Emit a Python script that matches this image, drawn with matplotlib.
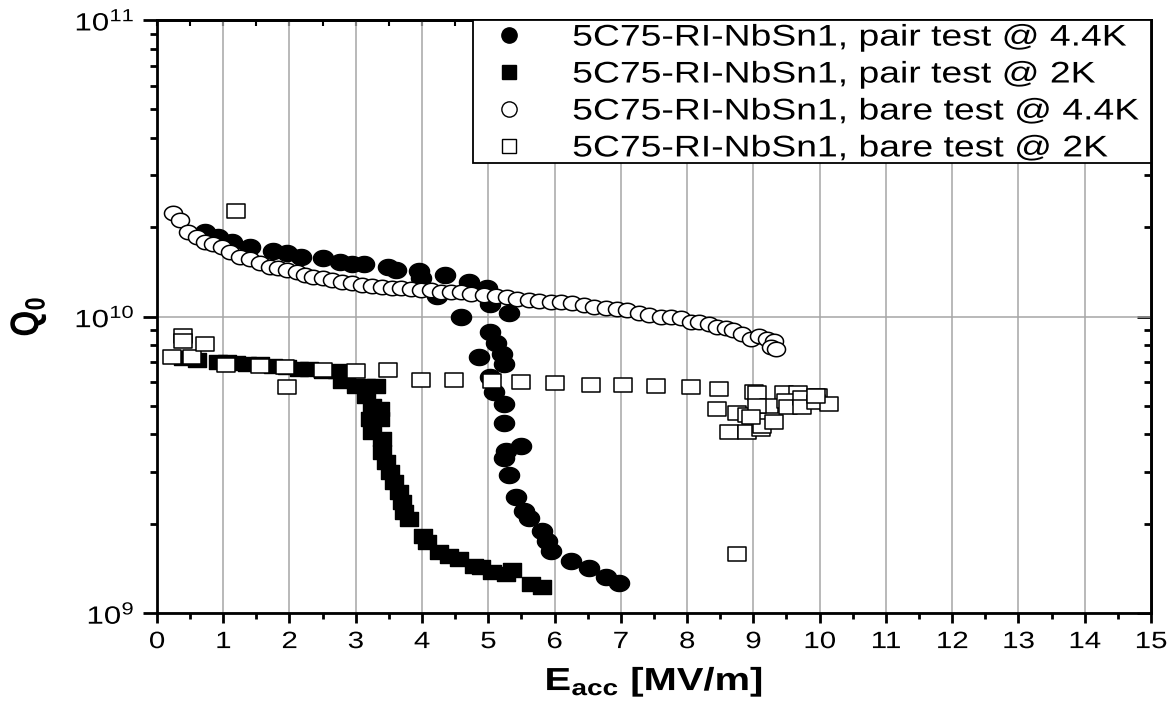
import numpy as np
import matplotlib
matplotlib.use("Agg")
import matplotlib.pyplot as plt
from matplotlib.path import Path
from matplotlib.lines import Line2D
from matplotlib.patches import Rectangle
from matplotlib.patheffects import AbstractPathEffect
from matplotlib.transforms import Affine2D
from matplotlib.ticker import MultipleLocator, LogLocator, NullFormatter

plt.rcParams['font.family'] = ['Liberation Sans', 'DejaVu Sans']
plt.rcParams['mathtext.fontset'] = 'custom'
plt.rcParams['mathtext.rm'] = 'Liberation Sans'
plt.rcParams['mathtext.bf'] = 'Liberation Sans:bold'
plt.rcParams['mathtext.it'] = 'Liberation Sans:italic'

# pair test @ 4.4K (filled circles)
pair44_E = [0.72, 0.92, 1.13, 1.40, 1.75, 1.96, 2.18, 2.50, 2.76, 2.94, 3.13, 3.48, 3.61,
            3.96, 3.99, 4.34, 4.71, 4.98, 4.22, 5.02, 5.32, 4.59, 5.02, 5.12, 4.86, 5.20,
            5.24, 5.02, 5.09, 5.24, 5.24, 5.50, 5.27, 5.24, 5.32, 5.42, 5.54, 5.62, 5.81,
            5.89, 5.95, 6.25, 6.52, 6.78, 6.97]
pair44_Q = [19.2, 18.5, 17.9, 17.2, 16.6, 16.4, 15.9, 15.7, 15.3, 15.0, 15.0, 14.7, 14.4,
            14.2, 13.5, 13.8, 13.1, 12.5, 11.7, 11.0, 10.3, 9.93, 8.84, 8.17, 7.28, 7.45,
            6.89, 6.23, 5.55, 5.06, 4.37, 3.65, 3.51, 3.33, 2.92, 2.46, 2.20, 2.09, 1.89,
            1.75, 1.62, 1.50, 1.42, 1.32, 1.26]

# pair test @ 2K (filled squares)
pair2_E = [0.39, 0.60, 0.92, 1.05, 1.20, 1.36, 1.55, 1.75, 1.96, 2.15, 2.30, 2.50, 2.71,
           2.86, 2.79, 3.01, 3.16, 3.31, 3.16, 3.24, 3.36, 3.21, 3.36, 3.25, 3.40, 3.40,
           3.46, 3.51, 3.58, 3.66, 3.70, 3.73, 3.81, 4.01, 4.07, 4.26, 4.41, 4.56, 4.79,
           4.89, 5.05, 5.27, 5.36, 5.65, 5.81]
pair2_Q = [7.23, 7.15, 7.05, 7.00, 6.95, 6.89, 6.89, 6.79, 6.73, 6.63, 6.63, 6.53, 6.53,
           6.47, 6.04, 5.81, 5.81, 5.81, 5.38, 4.98, 4.86, 4.50, 4.50, 4.07, 3.85, 3.49,
           3.22, 2.98, 2.76, 2.55, 2.36, 2.19, 2.07, 1.82, 1.73, 1.60, 1.56, 1.52, 1.44,
           1.43, 1.37, 1.35, 1.40, 1.25, 1.22]

# bare test @ 4.4K (open circles)
bare44_E = [0.24, 0.35, 0.47, 0.60, 0.72, 0.84, 0.98, 1.10, 1.25, 1.40, 1.55, 1.70, 1.82,
            1.96, 2.11, 2.23, 2.35, 2.50, 2.64, 2.79, 2.94, 3.09, 3.24, 3.39, 3.54, 3.69,
            3.84, 3.99, 4.14, 4.29, 4.44, 4.59, 4.74, 4.94, 5.12, 5.29, 5.44, 5.62, 5.77,
            5.95, 6.10, 6.27, 6.45, 6.60, 6.78, 6.94, 7.09, 7.27, 7.42, 7.61, 7.76, 7.91,
            8.06, 8.18, 8.33, 8.45, 8.58, 8.70, 8.83, 8.96, 9.08, 9.20, 9.31, 9.26, 9.34]
bare44_Q = [22.4, 21.2, 19.3, 18.6, 17.9, 17.5, 17.1, 16.5, 15.9, 15.6, 15.2, 14.7, 14.6,
            14.4, 14.1, 13.8, 13.6, 13.5, 13.3, 13.1, 13.0, 12.8, 12.7, 12.6, 12.5, 12.5,
            12.4, 12.3, 12.25, 12.1, 12.05, 12.05, 11.9, 11.8, 11.7, 11.6, 11.5, 11.4, 11.3,
            11.2, 11.15, 11.1, 10.9, 10.8, 10.7, 10.6, 10.5, 10.3, 10.15, 10.0, 9.95, 9.85,
            9.6, 9.55, 9.4, 9.25, 9.12, 8.98, 8.7, 8.37, 8.57, 8.37, 8.24, 7.9, 7.74]

# bare test @ 2K (open squares)
bare2_E = [0.23, 0.39, 0.39, 0.53, 0.72, 1.04, 1.20, 1.55, 1.93, 1.96, 2.50, 3.01, 3.48,
           3.98, 4.49, 5.05, 5.50, 6.00, 6.55, 7.03, 7.53, 8.06, 8.48, 8.45, 9.01, 9.05,
           9.46, 9.68, 9.98, 8.75, 8.90, 8.63, 8.90, 9.11, 9.13, 9.23, 9.31, 9.50, 9.53,
           9.73, 9.73, 9.95, 10.14, 9.95, 9.05, 8.96, 8.75]
bare2_Q = [7.33, 8.57, 8.24, 7.33, 8.05, 6.85, 22.7, 6.79, 6.73, 5.77, 6.58, 6.53, 6.58,
           6.13, 6.10, 6.04, 6.00, 5.95, 5.86, 5.86, 5.81, 5.77, 5.68, 4.86, 5.58, 5.50,
           5.51, 5.51, 5.38, 4.71, 4.64, 4.07, 4.07, 4.17, 4.27, 4.98, 4.40, 5.18, 4.94,
           5.33, 4.94, 5.13, 5.06, 5.38, 4.98, 4.57, 1.58]

labels = ["5C75-RI-NbSn1, pair test @ 4.4K",
          "5C75-RI-NbSn1, pair test @ 2K",
          "5C75-RI-NbSn1, bare test @ 4.4K",
          "5C75-RI-NbSn1, bare test @ 2K"]


class Stretch(AbstractPathEffect):
    """Draw text wider than normal (the Origin export is stretched sideways)."""

    def __init__(self, sx=1.0, sy=1.0, anchor='center'):
        super().__init__()
        self.sx, self.sy, self.anchor = sx, sy, anchor

    def draw_path(self, renderer, gc, tpath, affine, rgbFace=None):
        v = tpath.vertices
        if len(v) == 0:
            return
        if self.anchor == 'left':
            cx = 0.0
        elif self.anchor == 'right':
            cx = v[:, 0].max()
        else:
            cx = 0.5 * (v[:, 0].min() + v[:, 0].max())
        cy = 0.5 * (v[:, 1].min() + v[:, 1].max())
        tr = Affine2D().translate(-cx, -cy).scale(self.sx, self.sy).translate(cx, cy) + affine
        renderer.draw_path(gc, tpath, tr, rgbFace)


SX = 1.25

# slightly wide markers, same reason
t = np.linspace(0, 2 * np.pi, 61)
oval = Path(np.column_stack([1.25 * np.cos(t), np.sin(t)]), closed=True)
rect = Path([(-1.35, -1), (1.35, -1), (1.35, 1), (-1.35, 1), (-1.35, -1)], closed=True)

fig = plt.figure(figsize=(11.73, 7.11), dpi=100)
ax = fig.add_axes([0.1338, 0.1378, 0.9812 - 0.1338, 0.9719 - 0.1378])


def q(vals):
    return np.array(vals) * 1e9


ax.plot(pair44_E, q(pair44_Q), ls='none', marker=oval, ms=14.5, mfc='black', mec='black', zorder=3)
ax.plot(pair2_E, q(pair2_Q), ls='none', marker=rect, ms=13, mfc='black', mec='black', zorder=3)
ax.plot(bare44_E, q(bare44_Q), ls='none', marker=oval, ms=13, mfc='white', mec='black', mew=1.1, zorder=4)
ax.plot(bare2_E, q(bare2_Q), ls='none', marker=rect, ms=13, mfc='white', mec='black', mew=1.1, zorder=4)

ax.set_yscale('log')
ax.set_xlim(0, 15)
ax.set_ylim(1e9, 1e11)
ax.xaxis.set_major_locator(MultipleLocator(1))
ax.xaxis.set_minor_locator(MultipleLocator(0.5))
ax.yaxis.set_major_locator(LogLocator(base=10, numticks=5))
ax.yaxis.set_minor_locator(LogLocator(base=10, subs=np.arange(2, 10), numticks=20))
ax.yaxis.set_minor_formatter(NullFormatter())

ax.grid(True, which='major', color='#a6a6a6', lw=1.1, zorder=0)
ax.set_axisbelow(True)

for s in ax.spines.values():
    s.set_linewidth(2.0)

ax.tick_params(axis='x', which='major', direction='out', length=7, width=2, labelsize=17, pad=6,
               top=False)
ax.tick_params(axis='x', which='minor', direction='out', length=4, width=2, top=False)
ax.tick_params(axis='y', which='major', direction='out', length=10, width=2, labelsize=18, pad=6,
               right=False)
ax.tick_params(axis='y', which='minor', direction='out', length=5, width=2, right=False)

# inward ticks on the top and right frame
top = ax.secondary_xaxis('top')
top.xaxis.set_major_locator(MultipleLocator(1))
top.xaxis.set_minor_locator(MultipleLocator(0.5))
top.tick_params(which='both', direction='in', length=4, width=1.5, labeltop=False)
top.spines['top'].set_linewidth(2.0)

right = ax.secondary_yaxis('right')
right.yaxis.set_major_locator(LogLocator(base=10, numticks=5))
right.yaxis.set_minor_locator(LogLocator(base=10, subs=np.arange(2, 10), numticks=20))
right.tick_params(which='major', direction='in', length=10, width=2, labelright=False)
right.tick_params(which='minor', direction='in', length=5, width=2, labelright=False)
right.spines['right'].set_linewidth(2.0)

ax.set_xlabel(r'E$_{\mathbf{acc}}$ [MV/m]', fontsize=23, fontweight='bold')
ax.set_ylabel(r'Q$_{\mathbf{0}}$', fontsize=24, fontweight='bold')
ax.xaxis.set_label_coords(0.5, -0.088)
ax.yaxis.set_label_coords(-0.112, 0.5)
ax.xaxis.label.set_path_effects([Stretch(SX, anchor='center')])
ax.yaxis.label.set_path_effects([Stretch(1.0, 1.2)])

# legend: white box glued to the top-right corner, text laid out by the legend
lx0, ly0 = 0.318, 0.759
ax.add_patch(Rectangle((lx0, ly0), 1 - lx0, 1 - ly0, transform=ax.transAxes, fc='white',
                       ec='black', lw=1.3, zorder=9, clip_on=False))
handles = [
    Line2D([], [], ls='none', marker='o', ms=11, mfc='black', mec='black'),
    Line2D([], [], ls='none', marker='s', ms=10, mfc='black', mec='black'),
    Line2D([], [], ls='none', marker='o', ms=11, mfc='white', mec='black', mew=1.0),
    Line2D([], [], ls='none', marker='s', ms=10, mfc='white', mec='black', mew=1.0),
]
leg = ax.legend(handles, labels, loc='upper left', bbox_to_anchor=(lx0, 1.0), borderaxespad=0,
                fontsize=21.5, frameon=False, handlelength=2.2, handletextpad=1.0,
                labelspacing=0.3, borderpad=0.12)
leg.set_zorder(10)
for txt in leg.get_texts():
    txt.set_path_effects([Stretch(SX, anchor='left')])

fig.canvas.draw()
for lab in ax.get_xticklabels():
    lab.set_path_effects([Stretch(SX, anchor='center')])
for lab in ax.get_yticklabels():
    lab.set_path_effects([Stretch(SX, anchor='right')])

fig.savefig('out.png', dpi=100)
